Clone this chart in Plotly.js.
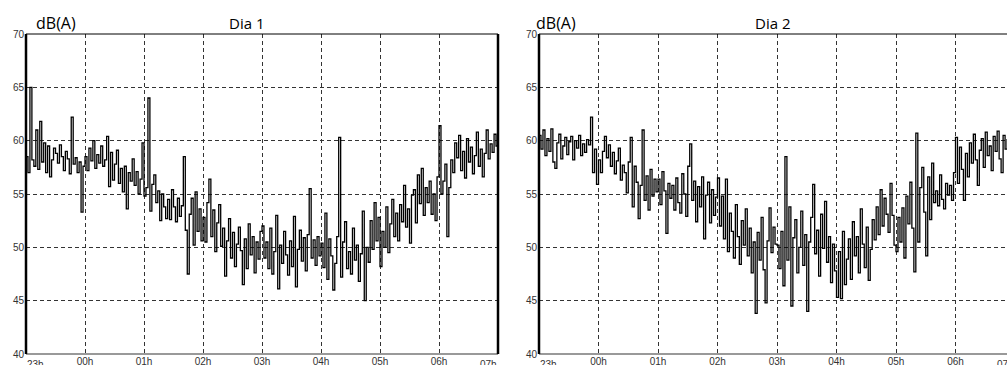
<!DOCTYPE html>
<html>
<head>
<meta charset="utf-8">
<script src="https://cdn.plot.ly/plotly-3.0.1.min.js"></script>
<style>
html,body{margin:0;padding:0;overflow:hidden;background:#fff;}
#chart{width:1040px;height:365px;}
</style>
</head>
<body>
<div id="chart"></div>
<script>
// Time axis: hours after 23h (0 = 23h, 8 = 07h); samples every 2 minutes
const tickLabels = ["23h","00h","01h","02h","03h","04h","05h","06h","07h"];
const panelTitles = ["Dia 1","Dia 2"];
const unitLabel = "dB(A)";
const yTicks = [40,45,50,55,60,65,70];

// Dia 1 — LAeq values, dB(A), one every 2 minutes from 23h00
const dia1 = [
  58.5,57.0,65.0,58.2,57.6,61.0,57.3,61.8,58.0,59.8,57.0,59.5,56.6,58.2,59.3,58.8,57.9,59.6,58.5,57.2,59.0,58.3,56.9,62.2,57.8,58.4,57.0,58.0,53.3,57.6,
  58.5,57.2,59.3,58.1,60.0,57.4,58.7,57.9,59.5,57.6,58.2,60.4,55.7,58.9,56.3,57.8,59.1,56.0,57.4,55.2,57.6,53.6,57.0,56.2,58.3,55.8,57.1,55.0,56.4,59.8,
  54.8,55.6,64.0,53.4,55.9,56.8,54.2,55.3,52.5,55.0,53.8,52.7,54.5,52.6,55.4,53.8,52.4,54.6,52.9,53.9,58.5,51.6,47.5,53.1,54.6,50.2,55.2,51.5,53.6,50.6,
  52.8,50.5,54.2,56.4,51.0,53.5,49.6,52.3,54.0,50.1,51.8,47.3,50.6,52.7,49.0,51.4,48.2,50.3,51.9,49.7,46.5,50.8,48.0,52.2,49.3,51.0,47.6,50.5,48.9,51.5,
  52.0,49.0,50.5,48.0,51.8,47.5,49.6,53.0,46.1,50.2,48.5,51.5,49.3,47.4,50.6,48.2,52.9,46.3,49.8,51.6,48.7,50.9,47.8,51.2,55.5,49.0,50.7,48.3,51.0,49.2,
  50.4,48.1,53.2,47.0,50.8,49.2,46.0,48.5,51.0,60.3,47.2,50.5,52.4,48.0,49.6,47.5,51.8,48.8,50.2,46.8,49.4,53.4,45.0,50.0,48.6,52.5,49.8,54.2,50.6,52.8,
  48.2,51.5,50.0,53.8,49.5,52.2,54.5,51.0,53.2,50.6,54.0,52.4,55.8,51.9,53.6,50.4,54.9,55.4,52.3,56.8,54.1,57.4,53.0,55.6,54.2,56.2,53.1,55.0,52.5,56.6,
  61.4,55.0,56.2,57.8,51.0,55.6,58.2,57.0,59.8,58.4,60.5,57.2,59.0,56.5,60.2,58.0,59.4,56.9,58.6,60.8,57.6,59.2,56.6,58.8,61.0,58.3,59.7,58.9,60.6,59.5,
  59.5
];

// Dia 2 — LAeq values, dB(A), one every 2 minutes from 23h00
const dia2 = [
  60.5,59.2,61.0,58.6,60.2,59.0,61.1,58.0,57.4,59.8,60.6,58.3,59.5,60.3,58.7,59.9,60.4,58.2,60.0,59.3,60.5,58.6,59.7,58.9,60.1,59.6,62.2,57.0,59.2,55.9,
  58.2,57.0,59.0,60.4,58.4,59.6,57.6,58.9,56.9,58.1,59.3,56.3,57.7,57.0,55.1,58.0,60.3,53.8,57.6,56.1,52.7,55.8,61.0,54.4,56.7,53.5,57.3,54.8,56.4,55.2,
  56.4,54.0,57.1,55.3,51.3,56.0,54.6,55.8,53.5,56.5,54.2,53.2,56.9,55.0,52.9,57.6,59.7,54.4,56.2,52.4,55.7,53.8,56.6,50.8,54.9,56.1,52.3,55.4,53.0,54.7,
  56.5,52.0,54.8,50.8,56.4,49.6,53.2,51.5,49.0,54.0,51.0,48.4,52.5,50.2,53.6,49.2,51.8,47.6,50.5,43.8,51.4,48.8,52.8,47.9,44.8,50.6,53.7,49.5,51.9,50.3,
  50.2,48.0,51.5,46.4,58.5,48.8,53.8,44.5,50.9,52.6,47.6,50.0,53.4,48.3,51.2,44.0,50.5,52.8,55.9,49.4,51.6,47.3,53.1,49.9,54.3,48.6,51.0,46.7,50.3,47.8,
  45.3,49.6,45.2,51.5,46.5,48.9,50.8,47.0,52.4,49.2,51.0,47.6,53.6,50.3,48.1,51.9,46.9,49.8,52.6,50.7,53.8,51.2,55.4,52.0,54.6,53.1,51.4,56.0,53.0,50.2,
  49.6,52.8,50.5,53.7,49.0,54.8,52.2,56.1,51.8,47.7,60.7,50.5,55.6,57.5,53.3,49.2,56.6,52.6,57.9,54.2,55.3,53.9,56.8,54.5,53.6,56.0,54.9,55.8,54.4,57.0,
  60.3,56.0,59.4,57.3,54.4,58.8,56.6,59.8,57.9,60.6,58.2,55.8,59.1,60.2,57.5,60.8,58.6,59.5,57.2,60.4,59.0,60.9,58.3,57.0,60.5,59.2,60.1,58.5,59.7,58.8,
  58.8
];

const SAMPLE_MIN = 2;
const timeOf = arr => arr.map((_, i) => i * SAMPLE_MIN / 60);

const W = 1040, H = 365;
const px = v => v / W;
const py = v => (H - v) / H;

const panels = [
  {x0: 26, x1: 498, titleX: 246, unitX: 34},
  {x0: 539, x1: 1015, titleX: 772, unitX: 534}
];
const yDom = [py(354), py(34)];

const traces = [dia1, dia2].map((d, k) => ({
  type: 'scatter', mode: 'lines',
  x: timeOf(d), y: d,
  xaxis: k === 0 ? 'x' : 'x2', yaxis: k === 0 ? 'y' : 'y2',
  line: {color: '#000', width: 1.3, shape: 'hv'},
  hoverinfo: 'skip', showlegend: false
}));

const tickFont = {family: 'Liberation Sans, Arial, sans-serif', size: 10, color: '#333'};
function xAxis(p, anchor) {
  return {
    domain: [px(p.x0), px(p.x1)], anchor: anchor, range: [0, 8],
    tickvals: [1,2,3,4,5,6,7], ticktext: tickLabels.slice(1,8),
    ticks: '', showline: false, zeroline: false,
    showgrid: true, gridcolor: '#333', gridwidth: 1, griddash: '4px,3px',
    tickfont: tickFont, fixedrange: true
  };
}
function yAxis(p, anchor) {
  return {
    domain: yDom, anchor: anchor, range: [40, 70],
    tickvals: yTicks, ticks: '', ticklabelstandoff: 1,
    showline: false, zeroline: false,
    showgrid: true, gridcolor: '#333', gridwidth: 1, griddash: '4px,3px',
    tickfont: tickFont, fixedrange: true
  };
}

const shapes = [];
const annotations = [];
panels.forEach((p, k) => {
  const xs = k === 0 ? 'x' : 'x2';
  const ys = k === 0 ? 'y' : 'y2';
  shapes.push({type:'line', xref: xs+' domain', yref: ys+' domain', x0:0, x1:1, y0:1, y1:1, line:{color:'#000', width:1}});
  shapes.push({type:'line', xref: xs+' domain', yref: ys+' domain', x0:0, x1:1, y0:0, y1:0, line:{color:'#777', width:1.5}});
  shapes.push({type:'line', xref: xs+' domain', yref: ys+' domain', x0:0, x1:0, y0:0, y1:1, line:{color:'#000', width:2.5}});
  shapes.push({type:'line', xref: xs+' domain', yref: ys+' domain', x0:1, x1:1, y0:0, y1:1, line:{color:'#000', width:2.5}});
  annotations.push({xref: xs, yref: 'paper', x: 0, y: py(357), yanchor: 'top', xanchor: 'left',
    text: tickLabels[0], showarrow: false, font: tickFont, xshift: -1});
  annotations.push({xref: xs, yref: 'paper', x: 8, y: py(357), yanchor: 'top', xanchor: 'right',
    text: tickLabels[8], showarrow: false, font: tickFont, xshift: 1});
  annotations.push({xref: 'paper', yref: 'paper', x: px(p.unitX), y: py(23), xanchor: 'left', yanchor: 'middle',
    text: unitLabel, showarrow: false, font: {family: 'Open Sans, Liberation Sans, sans-serif', size: 16, color: '#000'}});
  annotations.push({xref: 'paper', yref: 'paper', x: px(p.titleX), y: py(23), xanchor: 'center', yanchor: 'middle',
    text: panelTitles[k], showarrow: false, font: {family: 'Open Sans, Liberation Sans, sans-serif', size: 15, color: '#000'}});
});

const layout = {
  width: W, height: H,
  margin: {l: 0, r: 0, t: 0, b: 0},
  paper_bgcolor: '#fff', plot_bgcolor: '#fff',
  xaxis: xAxis(panels[0], 'y'),
  yaxis: yAxis(panels[0], 'x'),
  xaxis2: xAxis(panels[1], 'y2'),
  yaxis2: yAxis(panels[1], 'x2'),
  shapes: shapes, annotations: annotations,
  showlegend: false
};

Plotly.newPlot('chart', traces, layout, {displayModeBar: false, staticPlot: true});
</script>
</body>
</html>
